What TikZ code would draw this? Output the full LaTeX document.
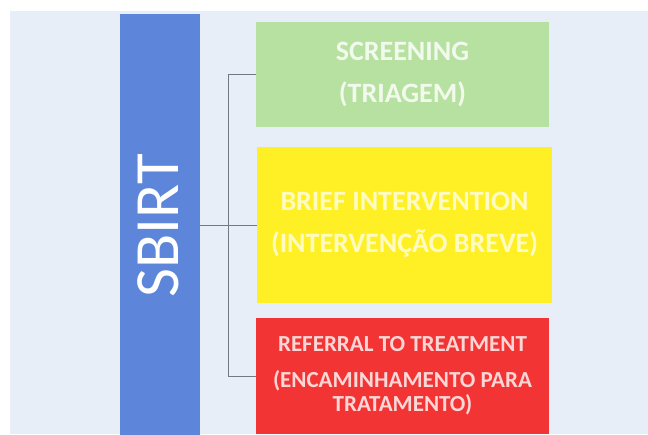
\documentclass[tikz,border=0pt]{standalone}
\usepackage{fontspec}
\setmainfont{Carlito}
\definecolor{bgblue}{HTML}{E7EEF8}
\definecolor{barblue}{HTML}{5D86DB}
\definecolor{boxgreen}{HTML}{B7E1A0}
\definecolor{boxyellow}{HTML}{FFF026}
\definecolor{boxred}{HTML}{F33434}
\definecolor{linegray}{HTML}{6E7A88}
\begin{document}
\begin{tikzpicture}[x=1pt,y=-1pt,
  box node/.style={rectangle,inner sep=0pt,align=center},
  link/.style={draw=linegray,line width=0.8pt}]
  \useasboundingbox (0,0) rectangle (648,434);
  \clip (0,0) rectangle (648,434);
  \fill[bgblue] (10,11) rectangle (648,434);
  % left bar
  \node[box node,fill=barblue,minimum width=80pt,minimum height=422pt] (bar) at (160,225) {};
  \node[rotate=90,text=white,font=\fontsize{63}{63}\selectfont] (sbirt) at (158,226) {SBIRT};
  % the three steps
  \node[box node,fill=boxgreen,minimum width=293pt,minimum height=105pt,
    text=white!82!boxgreen,font=\bfseries\fontsize{28}{42}\selectfont] (screen) at (402.5,74.5)
    {SCREENING\\(TRIAGEM)};
  \node[box node,fill=boxyellow,minimum width=295pt,minimum height=156pt,
    text=white!72!boxyellow,font=\bfseries\fontsize{28}{42}\selectfont] (brief) at (404.5,225)
    {BRIEF INTERVENTION\\(INTERVENÇÃO BREVE)};
  \node[box node,fill=boxred,minimum width=293pt,minimum height=116pt,
    text=white!80!boxred,font=\bfseries\fontsize{23}{24}\selectfont] (refer) at (402.5,376)
    {REFERRAL TO TREATMENT\\[12pt](ENCAMINHAMENTO PARA\\TRATAMENTO)};
  % connectors
  \coordinate (hub) at (228,225);
  \path[link]
   (bar.east |- brief.west) edge (brief.west)
   (hub) edge (hub |- screen.west)
   (hub) edge (hub |- refer.west)
   (hub |- screen.west) edge (screen.west)
   (hub |- refer.west) edge (refer.west);
\end{tikzpicture}
\end{document}
